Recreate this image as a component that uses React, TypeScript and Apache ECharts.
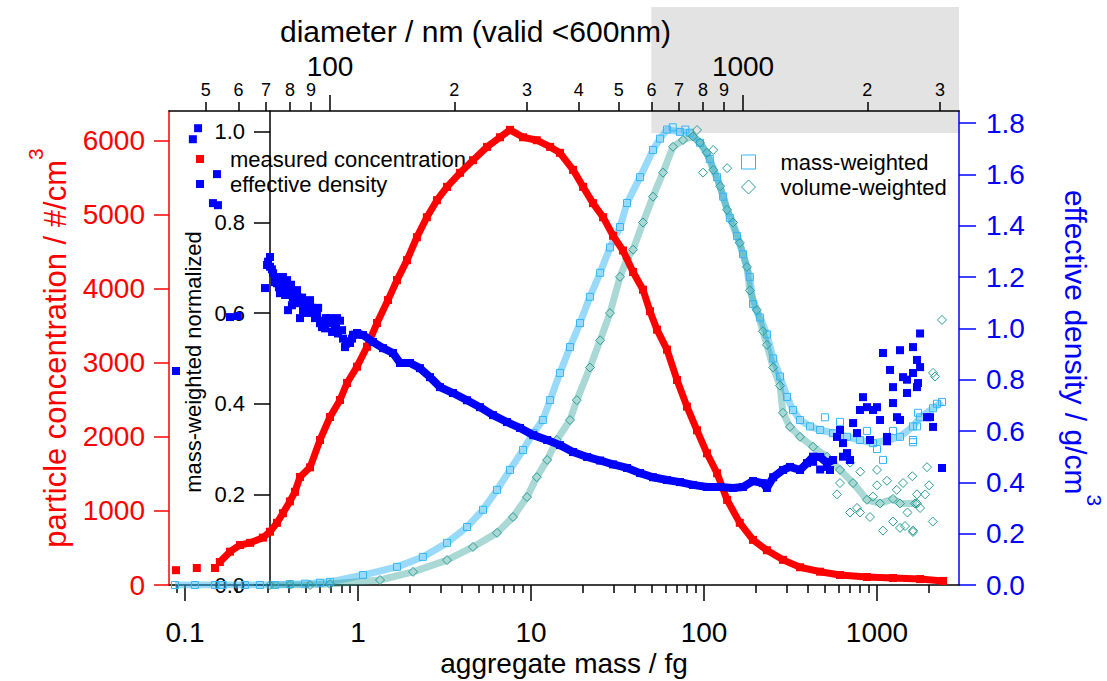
import React, { useEffect, useRef } from 'react';
import * as echarts from 'echarts';

const FONT = '"Liberation Sans", Arial, Helvetica, sans-serif';
const RED = '#ff0000';
const BLUE = '#0000ff';
const LIGHT = '#33b5f7';
const TEAL = '#2a9d94';
const GRAY = '#e3e3e3';

// axis ranges
const massRange = [0.0808, 2978];
const diamRange = [40.75, 3334];
const concRange = [0, 6405];
const densRange = [0, 1.847];
const normRange = [0, 1.046];
const validLimitNm = 600;

// tick values and labels
const massMajorTicks = [0.1, 1, 10, 100, 1000];
const massMajorLabels = ['0.1', '1', '10', '100', '1000'];
const massMinorTicks = [0.09, 0.2, 0.3, 0.4, 0.5, 0.6, 0.7, 0.8, 0.9, 2, 3, 4, 5, 6, 7, 8, 9, 20, 30, 40, 50, 60, 70, 80, 90, 200, 300, 400, 500, 600, 700, 800, 900, 2000];
const diamMinorTicks = [50, 60, 70, 80, 90, 200, 300, 400, 500, 600, 700, 800, 900, 2000, 3000];
const diamMinorLabels = ['5', '6', '7', '8', '9', '2', '3', '4', '5', '6', '7', '8', '9', '2', '3'];
const diamMajorTicks = [100, 1000];
const diamMajorLabels = ['100', '1000'];
const concTicks = [0, 1000, 2000, 3000, 4000, 5000, 6000];
const densTicks = [0, 0.2, 0.4, 0.6, 0.8, 1.0, 1.2, 1.4, 1.6, 1.8];
const normTicks = [0, 0.2, 0.4, 0.6, 0.8, 1.0];

// measured concentration [mass fg, #/cm3]
const concIsolated: [number, number][] = [[0.0887, 200], [0.117, 230], [0.149, 230]];
const concCurve: [number, number][] = [
  [0.159, 310], [0.182, 450], [0.208, 540], [0.238, 570], [0.282, 640], [0.31, 720], [0.34, 840], [0.368, 970],
  [0.404, 1130], [0.432, 1260], [0.462, 1460], [0.528, 1590], [0.603, 1960], [0.689, 2270], [0.787, 2500],
  [0.864, 2730], [0.987, 2950], [1.127, 3220], [1.288, 3540], [1.49, 3850], [1.68, 4120], [1.92, 4390],
  [2.19, 4700], [2.5, 4970], [2.86, 5200], [3.27, 5380], [3.89, 5570], [4.62, 5740], [5.57, 5920], [6.62, 6050],
  [7.56, 6150], [8.99, 6050], [10.8, 6010], [12.9, 5920], [14.7, 5840], [17.5, 5610], [20.0, 5380], [22.8, 5160],
  [26.1, 4970], [29.8, 4720], [34.0, 4520], [38.9, 4230], [44.4, 3990], [48.7, 3700], [53.5, 3450], [61.1, 3180],
  [69.8, 2770], [79.7, 2410], [91.1, 2090], [104, 1780], [119, 1510], [136, 1150], [161, 840], [192, 610],
  [231, 470], [286, 340], [359, 240], [468, 180], [611, 135], [875, 108], [1237, 95], [1774, 80], [2409, 55],
];

// effective density [mass fg, g/cm3]
const densityIsolated: [number, number][] = [
  [0.0887, 0.834], [0.111, 1.737], [0.119, 1.78], [0.145, 1.488], [0.153, 1.601], [0.155, 1.48], [0.182, 1.044], [0.202, 1.048],
];
const densityNoisy: [number, number][] = [
  [0.29, 1.157], [0.298, 1.247], [0.302, 1.26], [0.31, 1.278], [0.31, 1.24], [0.318, 1.23], [0.323, 1.215], [0.331, 1.2],
  [0.331, 1.18], [0.34, 1.176], [0.349, 1.16], [0.354, 1.137], [0.364, 1.16], [0.368, 1.2], [0.373, 1.17], [0.379, 1.13],
  [0.384, 1.14], [0.389, 1.188], [0.394, 1.071], [0.404, 1.149], [0.41, 1.17], [0.415, 1.09], [0.42, 1.12], [0.426, 1.1],
  [0.432, 1.13], [0.444, 1.149], [0.45, 1.12], [0.462, 1.098], [0.462, 1.04], [0.475, 1.12], [0.481, 1.07], [0.494, 1.08],
  [0.5, 1.06], [0.507, 1.1], [0.52, 1.09], [0.528, 1.11], [0.542, 1.08], [0.549, 1.06], [0.564, 1.04], [0.572, 1.05],
  [0.58, 1.06], [0.588, 1.08], [0.603, 1.02], [0.619, 1.005], [0.628, 1.03], [0.645, 1.0], [0.653, 1.04], [0.66, 1.02],
  [0.674, 1.03], [0.689, 1.04], [0.708, 0.986], [0.717, 1.02], [0.736, 1.01], [0.746, 1.0], [0.756, 1.04], [0.766, 0.98],
  [0.787, 1.03], [0.809, 0.993], [0.819, 0.96], [0.841, 0.927], [0.852, 0.94], [0.864, 0.95], [0.899, 0.943],
  [0.923, 0.96], [0.936, 0.975], [0.961, 0.975],
];
const densityCore: [number, number][] = [
  [0.987, 0.982], [1.069, 0.974], [1.221, 0.947], [1.395, 0.923], [1.593, 0.904], [1.749, 0.865], [1.998, 0.865],
  [2.281, 0.845], [2.607, 0.81], [2.979, 0.771], [3.54, 0.748], [4.266, 0.72], [5.07, 0.693], [6.03, 0.662],
  [7.26, 0.635], [8.64, 0.612], [10.3, 0.584], [12.4, 0.565], [14.7, 0.545], [17.5, 0.518], [21.1, 0.499],
  [25.1, 0.485], [29.8, 0.47], [35.9, 0.456], [42.7, 0.436], [50.7, 0.42], [61.1, 0.409], [72.6, 0.401],
  [86.3, 0.39], [104, 0.382], [124, 0.382], [147, 0.378], [168, 0.382], [192, 0.405], [219, 0.397], [231, 0.378],
  [251, 0.42], [286, 0.448], [314, 0.46], [359, 0.448], [394, 0.475], [427, 0.5], [469, 0.499], [514, 0.475], [557, 0.487],
];
const densityHigh: [number, number][] = [
  [535, 0.448], [587, 0.577], [611, 0.604], [636, 0.553], [671, 0.514], [698, 0.487], [636, 0.5], [727, 0.631],
  [766, 0.592], [797, 0.682], [830, 0.732], [875, 0.693], [911, 0.565], [948, 0.682], [1000, 0.693], [1041, 0.643],
  [1083, 0.904], [1142, 0.577], [1142, 0.56], [1189, 0.838], [1237, 0.771], [1237, 0.709], [1305, 0.654], [1358, 0.915],
  [1358, 0.643], [1414, 0.81], [1490, 0.748], [1490, 0.8], [1614, 0.927], [1614, 0.826], [1702, 0.771], [1702, 0.877],
  [1726, 0.787], [1774, 0.98], [1774, 0.849], [1946, 0.654], [2024, 0.654], [2108, 0.616], [2375, 0.456], [514, 0.46],
  [427, 0.48], [469, 0.45],
];

// mass-weighted normalized [mass fg, normalized]
const massWeightedCore: [number, number][] = [
  [0.0875, 0], [0.114, 0], [0.149, 0], [0.165, 0], [0.222, 0], [0.271, 0], [0.331, 0], [0.404, 0.002], [0.494, 0.003],
  [0.603, 0.005], [0.689, 0.007], [1.069, 0.022], [1.68, 0.04], [2.37, 0.062], [3.27, 0.093], [4.27, 0.128],
  [5.28, 0.166], [6.36, 0.21], [7.56, 0.254], [8.99, 0.298], [10.3, 0.335], [11.7, 0.364], [12.9, 0.408],
  [14.7, 0.468], [16.8, 0.525], [19.2, 0.578], [21.9, 0.636], [25.1, 0.689], [28.6, 0.745], [32.7, 0.79],
  [35.9, 0.843], [42.7, 0.9], [50.7, 0.96], [55.7, 0.985], [61.1, 1.005], [72.6, 1.0], [83.0, 0.998], [94.8, 0.976],
  [108, 0.94], [119, 0.9], [129, 0.857], [141, 0.81], [155, 0.77], [168, 0.73], [184, 0.68], [192, 0.62], [211, 0.59],
  [231, 0.553], [251, 0.5], [275, 0.46], [302, 0.415], [327, 0.386], [359, 0.364], [410, 0.35], [469, 0.342],
  [557, 0.335], [671, 0.327], [797, 0.32], [948, 0.313], [1142, 0.32], [1358, 0.327], [1614, 0.35], [1774, 0.37],
  [2108, 0.39], [2375, 0.404],
];
const massWeightedExtra: [number, number][] = [
  [1083, 0.276], [1614, 0.32], [2222, 0.4], [1726, 0.38], [1702, 0.35], [1614, 0.315], [1000, 0.3], [1237, 0.34],
  [611, 0.36], [875, 0.34], [500, 0.37], [66.0, 1.01], [78.0, 1.005],
];

// volume-weighted normalized [mass fg, normalized]
const volumeWeightedCore: [number, number][] = [
  [0.31, 0], [0.404, 0], [0.528, 0], [0.689, 0.002], [1.34, 0.011], [2.08, 0.029], [3.27, 0.055], [4.62, 0.084],
  [6.36, 0.115], [7.87, 0.15], [9.48, 0.194], [10.8, 0.238], [12.4, 0.276], [14.1, 0.32], [16.8, 0.364], [18.4, 0.408],
  [21.9, 0.48], [25.1, 0.54], [28.6, 0.6], [32.7, 0.68], [35.9, 0.72], [38.9, 0.74], [44.4, 0.8], [50.7, 0.857],
  [57.9, 0.91], [66.2, 0.967], [75.6, 0.982], [86.3, 0.99], [94.8, 0.976], [104, 0.954], [113, 0.916], [124, 0.88],
  [136, 0.828], [147, 0.8], [161, 0.755], [177, 0.702], [184, 0.65], [202, 0.607], [219, 0.56], [231, 0.53],
  [251, 0.48], [275, 0.44], [286, 0.38], [314, 0.349], [359, 0.327], [427, 0.305], [514, 0.283], [611, 0.254],
  [727, 0.225], [875, 0.188], [1041, 0.18], [1237, 0.19], [1358, 0.18], [1702, 0.18],
];
const volumeWeightedExtra: [number, number][] = [
  [91.1, 1.004], [113, 0.96], [98.7, 0.91], [136, 0.92], [797, 0.16], [1083, 0.12], [1358, 0.126], [1614, 0.12],
  [1000, 0.254], [2108, 0.468], [1946, 0.26], [611, 0.225], [587, 0.2], [766, 0.17], [948, 0.195], [1142, 0.23],
  [1414, 0.225], [1702, 0.2], [1774, 0.17], [2375, 0.585], [2163, 0.46], [1660, 0.18], [1614, 0.117], [698, 0.16],
  [911, 0.15], [1237, 0.14], [1452, 0.13], [1300, 0.21], [800, 0.25], [700, 0.27], [1000, 0.22], [1600, 0.24],
  [1900, 0.2], [1500, 0.16], [2000, 0.22], [2100, 0.14],
];

const lookup = (ticks: number[], labels: string[]) => (v: number) => {
  const i = ticks.findIndex((t) => Math.abs(t - v) <= Math.abs(t) * 1e-3 + 1e-9);
  return i >= 0 ? labels[i] : '';
};

const txt = (size: number, color = '#000') => ({ fontSize: size, color, fontFamily: FONT });

const logX = (pos: 'bottom' | 'top', range: number[]) => ({
  type: 'log',
  logBase: 10,
  position: pos,
  min: range[0],
  max: range[1],
  splitLine: { show: false },
  minorTick: { show: false },
  minorSplitLine: { show: false },
});

const option: any = {
  animation: false,
  textStyle: { fontFamily: FONT },
  title: {
    text: 'diameter / nm (valid <600nm)',
    left: 280,
    top: 16,
    padding: 0,
    textStyle: { ...txt(30), fontWeight: 'normal' },
  },
  grid: { left: 169, right: 148, top: 111, bottom: 96, containLabel: false, outerBoundsMode: 'none' },
  legend: [
    {
      orient: 'vertical',
      left: 196,
      top: 148,
      padding: 0,
      itemWidth: 8,
      itemHeight: 8,
      itemGap: 3,
      selectedMode: false,
      textStyle: { ...txt(22), padding: [0, 0, 0, 21] },
      data: [
        { name: 'measured concentration', icon: 'rect', itemStyle: { color: RED } },
        { name: 'effective density', icon: 'rect', itemStyle: { color: BLUE } },
      ],
    },
    {
      orient: 'vertical',
      left: 741,
      top: 151,
      padding: 0,
      itemWidth: 14,
      itemHeight: 14,
      itemGap: 3,
      selectedMode: false,
      textStyle: { ...txt(22), padding: [0, 0, 0, 20] },
      data: [
        { name: 'mass-weighted', icon: 'rect', itemStyle: { color: 'transparent', borderColor: LIGHT, borderWidth: 1 } },
        { name: 'volume-weighted', icon: 'diamond', itemStyle: { color: 'transparent', borderColor: TEAL, borderWidth: 1 } },
      ],
    },
  ],
  xAxis: [
    {
      ...logX('bottom', massRange),
      axisLine: { show: true, onZero: false, lineStyle: { color: '#000', width: 1.5 } },
      axisTick: { show: true, customValues: massMajorTicks, length: 16, lineStyle: { color: '#000', width: 1.5 } },
      axisLabel: { show: true, customValues: massMajorTicks, formatter: lookup(massMajorTicks, massMajorLabels), margin: 33, ...txt(28) },
      name: 'aggregate mass / fg',
      nameLocation: 'middle',
      nameGap: 64,
      nameMoveOverlap: false,
      nameTextStyle: txt(28),
    },
    {
      ...logX('bottom', massRange),
      axisLine: { show: false, onZero: false },
      axisTick: { show: true, customValues: massMinorTicks, length: 8, lineStyle: { color: '#000', width: 1.5 } },
      axisLabel: { show: false },
    },
    {
      ...logX('top', diamRange),
      axisLine: { show: true, onZero: false, lineStyle: { color: '#000', width: 1.5 } },
      axisTick: { show: true, customValues: diamMinorTicks, length: 9, lineStyle: { color: '#000', width: 1.5 } },
      axisLabel: { show: true, customValues: diamMinorTicks, formatter: lookup(diamMinorTicks, diamMinorLabels), margin: 12, ...txt(18) },
    },
    {
      ...logX('top', diamRange),
      axisLine: { show: false, onZero: false },
      axisTick: { show: true, customValues: diamMajorTicks, length: 16, lineStyle: { color: '#000', width: 1.5 } },
      axisLabel: { show: true, customValues: diamMajorTicks, formatter: lookup(diamMajorTicks, diamMajorLabels), margin: 31, ...txt(28) },
    },
  ],
  yAxis: [
    {
      type: 'value',
      position: 'left',
      min: concRange[0],
      max: concRange[1],
      splitLine: { show: false },
      axisLine: { show: true, onZero: false, lineStyle: { color: RED, width: 1.5 } },
      axisTick: { show: true, customValues: concTicks, length: 15, lineStyle: { color: RED, width: 1.5 } },
      axisLabel: { show: true, customValues: concTicks, formatter: (v: number) => String(Math.round(v)), margin: 24, ...txt(28, RED) },
      name: 'particle concentration / #/cm{sup|3}',
      nameLocation: 'middle',
      nameGap: 84,
      nameMoveOverlap: false,
      nameTextStyle: {
        ...txt(31, RED),
        lineHeight: 60,
        rich: { sup: { fontSize: 21, lineHeight: 21, verticalAlign: 'top', color: RED, fontFamily: FONT } },
      },
    },
    {
      type: 'value',
      position: 'right',
      min: densRange[0],
      max: densRange[1],
      splitLine: { show: false },
      axisLine: { show: true, onZero: false, lineStyle: { color: BLUE, width: 1.5 } },
      axisTick: { show: true, customValues: densTicks, length: 17, lineStyle: { color: BLUE, width: 1.5 } },
      axisLabel: { show: true, customValues: densTicks, formatter: (v: number) => v.toFixed(1), margin: 27, ...txt(28, BLUE) },
      name: 'effective density / g/cm{sup|3}',
      nameLocation: 'middle',
      nameRotate: -90,
      nameGap: 86,
      nameMoveOverlap: false,
      nameTextStyle: {
        ...txt(30, BLUE),
        lineHeight: 60,
        rich: { sup: { fontSize: 21, lineHeight: 21, verticalAlign: 'top', color: BLUE, fontFamily: FONT } },
      },
    },
    {
      type: 'value',
      position: 'left',
      offset: -101,
      min: normRange[0],
      max: normRange[1],
      splitLine: { show: false },
      axisLine: { show: true, onZero: false, lineStyle: { color: '#000', width: 1.5 } },
      axisTick: { show: true, customValues: normTicks, length: 16, lineStyle: { color: '#000', width: 1.5 } },
      axisLabel: { show: true, customValues: normTicks, formatter: (v: number) => v.toFixed(1), margin: 25, ...txt(22) },
      name: 'mass-weighted normalized',
      nameLocation: 'middle',
      nameGap: 66,
      nameMoveOverlap: false,
      nameTextStyle: { ...txt(22), padding: [0, 28, 0, 0] },
    },
  ],
  series: [
    {
      name: 'mw-band', type: 'line', xAxisIndex: 0, yAxisIndex: 2, data: massWeightedCore,
      symbol: 'none', showSymbol: false, silent: true, z: 1,
      lineStyle: { color: LIGHT, width: 7, opacity: 0.5 },
    },
    {
      name: 'mass-weighted', type: 'scatter', xAxisIndex: 0, yAxisIndex: 2,
      data: [...massWeightedCore, ...massWeightedExtra],
      symbol: 'rect', symbolSize: 7, z: 2, silent: true,
      itemStyle: { color: 'transparent', borderColor: LIGHT, borderWidth: 1, opacity: 1 },
    },
    {
      name: 'vw-band', type: 'line', xAxisIndex: 0, yAxisIndex: 2, data: volumeWeightedCore,
      symbol: 'none', showSymbol: false, silent: true, z: 2,
      lineStyle: { color: TEAL, width: 7, opacity: 0.4 },
    },
    {
      name: 'volume-weighted', type: 'scatter', xAxisIndex: 0, yAxisIndex: 2,
      data: [...volumeWeightedCore, ...volumeWeightedExtra],
      symbol: 'diamond', symbolSize: 9, z: 3, silent: true,
      itemStyle: { color: 'transparent', borderColor: TEAL, borderWidth: 1, opacity: 1 },
    },
    {
      name: 'conc-band', type: 'line', xAxisIndex: 0, yAxisIndex: 0, data: concCurve,
      symbol: 'none', showSymbol: false, silent: true, z: 4,
      lineStyle: { color: RED, width: 7 },
    },
    {
      name: 'measured concentration', type: 'scatter', xAxisIndex: 0, yAxisIndex: 0,
      data: [...concIsolated, ...concCurve],
      symbol: 'rect', symbolSize: 8, z: 4, silent: true,
      itemStyle: { color: RED, opacity: 1 },
    },
    {
      name: 'density-band', type: 'line', xAxisIndex: 0, yAxisIndex: 1, data: densityCore,
      symbol: 'none', showSymbol: false, silent: true, z: 5,
      lineStyle: { color: BLUE, width: 8 },
    },
    {
      name: 'effective density', type: 'scatter', xAxisIndex: 0, yAxisIndex: 1,
      data: [...densityIsolated, ...densityNoisy, ...densityCore, ...densityHigh],
      symbol: 'rect', symbolSize: 8, z: 5, silent: true,
      itemStyle: { color: BLUE, opacity: 1 },
    },
  ],
};

export default function App() {
  const ref = useRef<HTMLDivElement>(null);
  useEffect(() => {
    if (!ref.current) return;
    const chart = echarts.init(ref.current, undefined, { renderer: 'svg' });
    chart.setOption(option);
    const x0 = chart.convertToPixel({ xAxisIndex: 2 }, validLimitNm) as number;
    const x1 = chart.convertToPixel({ xAxisIndex: 2 }, diamRange[1]) as number;
    chart.setOption({
      graphic: [
        {
          type: 'rect',
          z: -1,
          silent: true,
          shape: { x: x0, y: 7, width: x1 - x0, height: 126 },
          style: { fill: GRAY },
        },
      ],
    });
    return () => chart.dispose();
  }, []);
  return <div ref={ref} style={{ position: 'absolute', left: 0, top: 0, width: 1107, height: 681 }} />;
}
